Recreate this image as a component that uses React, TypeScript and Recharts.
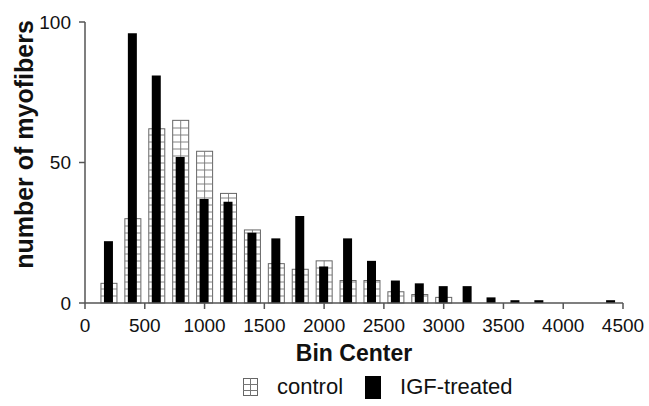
import React from 'react';
import { ComposedChart, Bar, XAxis, YAxis, Legend } from 'recharts';

const binCenters = [200, 400, 600, 800, 1000, 1200, 1400, 1600, 1800, 2000, 2200, 2400, 2600, 2800, 3000, 3200, 3400, 3600, 3800, 4000, 4200, 4400];
const controlCounts = [7, 30, 62, 65, 54, 39, 26, 14, 12, 15, 8, 8, 4, 3, 2, 0, 0, 0, 0, 0, 0, 0];
const igfCounts = [22, 96, 81, 52, 37, 36, 25, 23, 31, 13, 23, 15, 8, 7, 6, 6, 2, 1, 1, 0, 0, 1];
const xTicks = [0, 500, 1000, 1500, 2000, 2500, 3000, 3500, 4000, 4500];
const yTicks = [0, 50, 100];

const data = binCenters.map((bin, i) => ({
  bin,
  control: controlCounts[i],
  igf: igfCounts[i],
}));

const FONT = '"Liberation Sans", Arial, Helvetica, sans-serif';
const AXIS = '#555';

// grid-hatched bar for the control series
const GridBar = (props: any) => {
  const { x, y, width, height } = props;
  if (!height || height <= 0) return null;
  const bottom = y + height;
  const lines = [];
  for (let yy = bottom - 7; yy > y + 1; yy -= 7) {
    lines.push(<line key={yy} x1={x} x2={x + width} y1={yy} y2={yy} stroke="#777" strokeWidth={0.9} />);
  }
  return (
    <g>
      <rect x={x} y={y} width={width} height={height} fill="#fff" stroke="#666" strokeWidth={1} />
      {lines}
      <line x1={x + width / 2} x2={x + width / 2} y1={y} y2={bottom} stroke="#777" strokeWidth={0.9} />
    </g>
  );
};

const YLabel = (props: any) => {
  const vb = props.viewBox;
  const cx = vb.x + 24;
  const cy = vb.y + vb.height / 2 - 18;
  return (
    <text
      x={cx}
      y={cy}
      transform={`rotate(-90, ${cx}, ${cy})`}
      textAnchor="middle"
      dominantBaseline="central"
      fontFamily={FONT}
      fontWeight="bold"
      fontSize={25}
      fill="#111"
    >
      number of myofibers
    </text>
  );
};

const LegendContent = () => (
  <div style={{ display: 'flex', alignItems: 'center', paddingLeft: 243, fontFamily: FONT, fontSize: 22, color: '#111', height: 30 }}>
    <svg width={15} height={18} style={{ marginRight: 19 }}>
      <rect x={0.5} y={0.5} width={14} height={17} fill="#fff" stroke="#666" />
      <line x1={7.5} x2={7.5} y1={0} y2={18} stroke="#777" />
      <line x1={0} x2={15} y1={6.5} y2={6.5} stroke="#777" />
      <line x1={0} x2={15} y1={12.5} y2={12.5} stroke="#777" />
    </svg>
    <span style={{ marginRight: 22 }}>control</span>
    <svg width={16} height={23} style={{ marginRight: 19 }}>
      <rect x={0} y={0} width={16} height={23} fill="#000" />
    </svg>
    <span>IGF-treated</span>
  </div>
);

export default function App() {
  return (
    <div style={{ position: 'fixed', left: 0, top: 0, width: 649, height: 406, background: '#fff' }}>
      <ComposedChart width={649} height={406} data={data} margin={{ top: 22, right: 26, left: 0, bottom: 33 }}>
        <XAxis
          xAxisId="main"
          type="number"
          dataKey="bin"
          domain={[0, 4500]}
          ticks={xTicks}
          interval={0}
          height={70}
          stroke={AXIS}
          strokeWidth={1.5}
          tickSize={6}
          tickMargin={10}
          tick={{ fill: '#111', fontSize: 19, fontFamily: FONT }}
          label={{ value: 'Bin Center', position: 'insideBottom', offset: 12, fill: '#111', fontSize: 23, fontWeight: 'bold', fontFamily: FONT }}
        />
        <XAxis xAxisId="over" type="number" dataKey="bin" domain={[0, 4500]} hide />
        <YAxis
          type="number"
          domain={[0, 100]}
          ticks={yTicks}
          width={85}
          stroke={AXIS}
          strokeWidth={1.5}
          tickSize={6}
          tickMargin={8}
          tick={{ fill: '#111', fontSize: 19, fontFamily: FONT }}
          label={<YLabel />}
        />
        <Legend
          layout="horizontal"
          verticalAlign="middle"
          align="center"
          content={<LegendContent />}
          wrapperStyle={{ left: 0, top: 372, width: 649, height: 30 }}
        />
        <Bar xAxisId="main" dataKey="control" name="control" barSize={16} shape={<GridBar />} isAnimationActive={false} />
        <Bar xAxisId="over" dataKey="igf" name="IGF-treated" barSize={9} fill="#000" isAnimationActive={false} />
      </ComposedChart>
    </div>
  );
}
